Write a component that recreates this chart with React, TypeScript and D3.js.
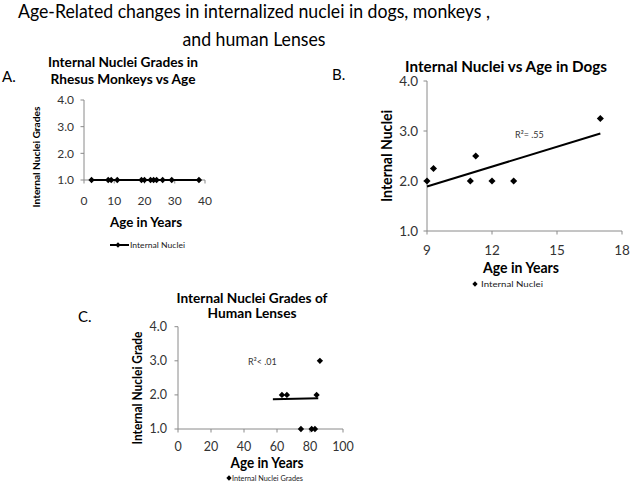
import React from "react";
import * as d3 from "d3";

// ---------- data ----------
const monkeyAge = [2.5, 8, 9, 11, 19, 20, 22, 23, 24, 26, 29, 38];
const monkeyGrade = [1, 1, 1, 1, 1, 1, 1, 1, 1, 1, 1, 1];

const dogAge = [9, 9.3, 11, 11.25, 12, 13, 17];
const dogNuclei = [2, 2.25, 2, 2.5, 2, 2, 3.25];
const dogTrendAge = [9, 17];
const dogTrendNuclei = [1.89, 2.95];

const humanAge = [63, 66, 74.5, 81, 83, 84, 86];
const humanGrade = [2, 2, 1, 1, 1, 2, 3];
const humanTrendAge = [57.5, 85];
const humanTrendGrade = [1.87, 1.9];

const gradeTicks = [1, 2, 3, 4];
const monkeyXTicks = [0, 10, 20, 30, 40];
const dogXTicks = [9, 12, 15, 18];
const humanXTicks = [0, 20, 40, 60, 80, 100];

const FONT = "Lato, 'Open Sans', sans-serif";
const AXIS = "#8a8a8a";
const TICKTXT = "#333";

type PanelProps = {
  xr: [number, number];
  yr: [number, number];
  xd: [number, number];
  xTicks: number[];
  tickFont: number;
  xLabelDy: number;
  yGap: number;
  xs: number[];
  ys: number[];
  connect?: boolean;
  trendX?: number[];
  trendY?: number[];
  marker: number;
};

function Panel(p: PanelProps) {
  const x = d3.scaleLinear().domain(p.xd).range(p.xr);
  const y = d3.scaleLinear().domain([1, 4]).range(p.yr);
  const fmt = d3.format(".1f");
  const diamond = d3.symbol().type(d3.symbolSquare).size(p.marker)() as string;
  const pts = p.xs.map((v, i) => [v, p.ys[i]] as [number, number]);
  const line = d3
    .line<[number, number]>()
    .x((d) => x(d[0]))
    .y((d) => y(d[1]));
  const trend =
    p.trendX && p.trendY
      ? p.trendX.map((v, i) => [v, p.trendY![i]] as [number, number])
      : null;
  return (
    <g>
      {/* y axis */}
      <line x1={p.xr[0]} x2={p.xr[0]} y1={p.yr[0]} y2={p.yr[1]} stroke={AXIS} />
      {gradeTicks.map((t) => (
        <g key={"y" + t}>
          <line x1={p.xr[0] - 3.5} x2={p.xr[0]} y1={y(t)} y2={y(t)} stroke={AXIS} />
          <text
            x={p.xr[0] - p.yGap}
            y={y(t)}
            dy="0.35em"
            textAnchor="end"
            fontSize={p.tickFont}
            fontFamily={FONT}
            fill={TICKTXT}
          >
            {fmt(t)}
          </text>
        </g>
      ))}
      {/* x axis */}
      <line x1={p.xr[0]} x2={p.xr[1]} y1={p.yr[0]} y2={p.yr[0]} stroke={AXIS} />
      {p.xTicks.map((t) => (
        <g key={"x" + t}>
          <line x1={x(t)} x2={x(t)} y1={p.yr[0]} y2={p.yr[0] + 3.5} stroke={AXIS} />
          <text
            x={x(t)}
            y={p.yr[0] + p.xLabelDy}
            textAnchor="middle"
            fontSize={p.tickFont}
            fontFamily={FONT}
            fill={TICKTXT}
          >
            {t}
          </text>
        </g>
      ))}
      {p.connect && (
        <path d={line(pts) as string} fill="none" stroke="#000" strokeWidth={2} />
      )}
      {trend && (
        <path d={line(trend) as string} fill="none" stroke="#000" strokeWidth={2} />
      )}
      {pts.map((d, i) => (
        <path
          key={i}
          d={diamond}
          transform={`translate(${x(d[0])},${y(d[1])}) rotate(45)`}
          fill="#000"
        />
      ))}
    </g>
  );
}

function T(props: any) {
  const { children, ...rest } = props;
  return (
    <text fontFamily={FONT} fill="#000" {...rest}>
      {children}
    </text>
  );
}

export default function App() {
  const legendDiamond = d3.symbol().type(d3.symbolSquare).size(14)() as string;
  return (
    <svg
      width={632}
      height={487}
      style={{ position: "absolute", left: 0, top: 0, background: "#fff" }}
    >
      {/* main title */}
      <T x={254} y={18} textAnchor="middle" fontSize={19} textLength={472} lengthAdjust="spacingAndGlyphs">
        Age-Related changes in internalized nuclei in dogs, monkeys ,
      </T>
      <T x={254} y={46} textAnchor="middle" fontSize={19} textLength={143} lengthAdjust="spacingAndGlyphs">
        and human Lenses
      </T>

      {/* ---------- Panel A ---------- */}
      <T x={2} y={82} fontSize={15}>A.</T>
      <T x={123} y={67} textAnchor="middle" fontSize={14} fontWeight="bold" textLength={150} lengthAdjust="spacingAndGlyphs">
        Internal Nuclei Grades in
      </T>
      <T x={123} y={84} textAnchor="middle" fontSize={14} fontWeight="bold" textLength={145} lengthAdjust="spacingAndGlyphs">
        Rhesus Monkeys vs Age
      </T>
      <T
        transform="translate(40,157) rotate(-90)"
        textAnchor="middle"
        fontSize={9.5}
        fontWeight="bold"
        textLength={101}
        lengthAdjust="spacingAndGlyphs"
      >
        Internal Nuclei Grades
      </T>
      <Panel
        xr={[84, 205]}
        yr={[180, 100]}
        xd={[0, 40]}
        xTicks={monkeyXTicks}
        tickFont={12}
        xLabelDy={25}
        yGap={10}
        xs={monkeyAge}
        ys={monkeyGrade}
        connect
        marker={20}
      />
      <T x={146} y={227} textAnchor="middle" fontSize={14} fontWeight="bold" textLength={72} lengthAdjust="spacingAndGlyphs">
        Age in Years
      </T>
      <line x1={110} x2={129} y1={245} y2={245} stroke="#000" strokeWidth={2} />
      <path d={legendDiamond} transform="translate(118,245) rotate(45)" fill="#000" />
      <T x={130} y={247.5} fontSize={7.5} fill="#222" textLength={55} lengthAdjust="spacingAndGlyphs">
        Internal Nuclei
      </T>

      {/* ---------- Panel B ---------- */}
      <T x={332} y={80} fontSize={15}>B.</T>
      <T x={506} y={72} textAnchor="middle" fontSize={14.5} fontWeight="bold" textLength={202} lengthAdjust="spacingAndGlyphs">
        Internal Nuclei vs Age in Dogs
      </T>
      <T
        transform="translate(392,156) rotate(-90)"
        textAnchor="middle"
        fontSize={15}
        fontWeight="bold"
        textLength={92}
        lengthAdjust="spacingAndGlyphs"
      >
        Internal Nuclei
      </T>
      <Panel
        xr={[427, 622]}
        yr={[231, 81]}
        xd={[9, 18]}
        xTicks={dogXTicks}
        tickFont={13.5}
        xLabelDy={24}
        yGap={9}
        xs={dogAge}
        ys={dogNuclei}
        trendX={dogTrendAge}
        trendY={dogTrendNuclei}
        marker={25}
      />
      <T x={515} y={138} fontSize={9} fill="#333">
        R²= .55
      </T>
      <T x={521} y={273} textAnchor="middle" fontSize={16} fontWeight="bold" textLength={76} lengthAdjust="spacingAndGlyphs">
        Age in Years
      </T>
      <path d={legendDiamond} transform="translate(475,284) rotate(45)" fill="#000" />
      <T x={481} y={287} fontSize={8} fill="#222" textLength={62} lengthAdjust="spacingAndGlyphs">
        Internal Nuclei
      </T>

      {/* ---------- Panel C ---------- */}
      <T x={78} y={322} fontSize={15}>C.</T>
      <T x={252} y={302.5} textAnchor="middle" fontSize={13} fontWeight="bold" textLength={151} lengthAdjust="spacingAndGlyphs">
        Internal Nuclei Grades of
      </T>
      <T x={252} y={318} textAnchor="middle" fontSize={13} fontWeight="bold" textLength={89} lengthAdjust="spacingAndGlyphs">
        Human Lenses
      </T>
      <T
        transform="translate(142,388) rotate(-90)"
        textAnchor="middle"
        fontSize={13}
        fontWeight="bold"
        textLength={113}
        lengthAdjust="spacingAndGlyphs"
      >
        Internal Nuclei Grade
      </T>
      <Panel
        xr={[178, 343]}
        yr={[429, 326.7]}
        xd={[0, 100]}
        xTicks={humanXTicks}
        tickFont={12.5}
        xLabelDy={22}
        yGap={11}
        xs={humanAge}
        ys={humanGrade}
        trendX={humanTrendAge}
        trendY={humanTrendGrade}
        marker={20}
      />
      <T x={248} y={365} fontSize={9} fill="#333">
        R²&lt; .01
      </T>
      <T x={267} y={468} textAnchor="middle" fontSize={15} fontWeight="bold" textLength={73} lengthAdjust="spacingAndGlyphs">
        Age in Years
      </T>
      <path d={legendDiamond} transform="translate(229,478) rotate(45)" fill="#000" />
      <T x={232} y={480.5} fontSize={7} fill="#222" textLength={71} lengthAdjust="spacingAndGlyphs">
        Internal Nuclei Grades
      </T>
    </svg>
  );
}
